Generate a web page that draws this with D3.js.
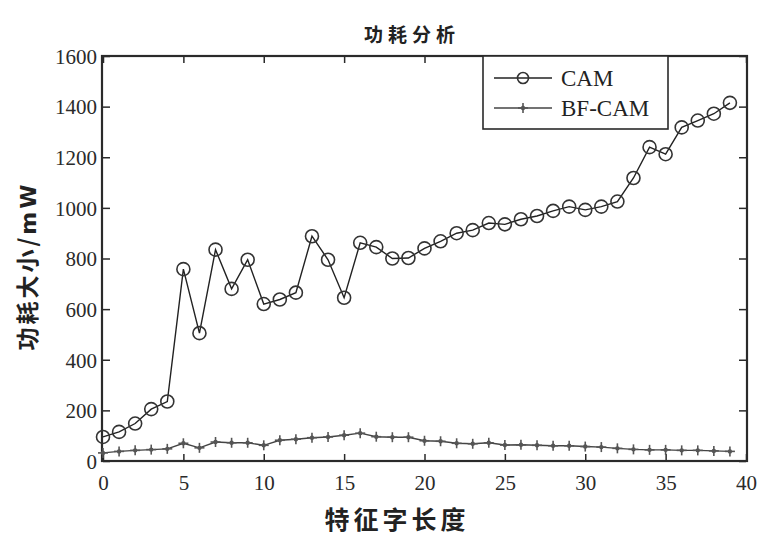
<!DOCTYPE html>
<html><head><meta charset="utf-8">
<script src="https://cdn.jsdelivr.net/npm/d3@7"></script>
<style>body{margin:0;background:#fff;} svg{display:block;}</style>
</head><body>
<svg id="c" width="763" height="536"></svg>
<script>
const xValues = d3.range(0, 40);
const camValues = [95,115,148,205,235,758,505,835,680,795,620,638,665,888,795,645,862,845,800,802,840,868,900,912,940,935,955,968,988,1005,992,1005,1025,1118,1240,1212,1318,1345,1372,1415];
const bfcamValues = [32,38,42,45,48,70,52,75,72,72,62,82,86,92,95,102,110,96,94,94,80,78,70,68,72,63,64,62,60,60,57,55,50,46,44,44,42,42,40,38];
const xTicks = [0,5,10,15,20,25,30,35,40];
const yTicks = [0,200,400,600,800,1000,1200,1400,1600];
const seriesNames = ["CAM","BF-CAM"];
const titleText = "功耗分析";
const xLabel = "特征字长度";
const yLabelCJK = "功耗大小/";
const yLabelUnit = "mW";

const svg = d3.select("#c");
const L = 103, R = 746, T = 56, B = 461;
const x = d3.scaleLinear().domain([0,40]).range([L,R]);
const y = d3.scaleLinear().domain([0,1600]).range([B,T]);
const ink = "#2a2a2a";
const serif = "'Liberation Serif','DejaVu Serif',serif";
const cjk = "'Noto Sans CJK SC','Noto Sans CJK JP',sans-serif";

// axes with inward ticks
const gx = svg.append("g").attr("transform",`translate(0,${B})`)
  .call(d3.axisBottom(x).tickValues(xTicks).tickSize(-7).tickPadding(14).tickFormat(d3.format("d")));
const gxt = svg.append("g").attr("transform",`translate(0,${T})`)
  .call(d3.axisTop(x).tickValues(xTicks).tickSize(-7).tickFormat(""));
const gy = svg.append("g").attr("transform",`translate(${L},0)`)
  .call(d3.axisLeft(y).tickValues(yTicks).tickSize(-7).tickPadding(6).tickFormat(d3.format("d")));
const gyr = svg.append("g").attr("transform",`translate(${R},0)`)
  .call(d3.axisRight(y).tickValues(yTicks).tickSize(-7).tickFormat(""));
[gx,gxt,gy,gyr].forEach(g=>{
  g.select(".domain").remove();
  g.selectAll(".tick line").attr("stroke",ink).attr("stroke-width",1.5);
  g.selectAll("text").attr("font-family",serif).attr("font-size",21).attr("fill","#2a2a2a");
});
gy.selectAll("text").attr("dy","0.35em");

svg.append("rect").attr("x",L-1).attr("y",T).attr("width",R-L+2).attr("height",B-T)
  .attr("fill","none").attr("stroke",ink).attr("stroke-width",2.2);

// lines
const line = vals => d3.line().x((d,i)=>x(xValues[i])).y(d=>y(d))(vals);
svg.append("path").attr("d",line(bfcamValues)).attr("fill","none").attr("stroke","#444").attr("stroke-width",1.4);
svg.append("path").attr("d",line(camValues)).attr("fill","none").attr("stroke","#222").attr("stroke-width",1.4);

// BF-CAM markers (+)
const plus = (g,cx,cy,s)=>{
  g.append("line").attr("x1",cx-s).attr("x2",cx+s).attr("y1",cy).attr("y2",cy);
  g.append("line").attr("x1",cx).attr("x2",cx).attr("y1",cy-s).attr("y2",cy+s);
  g.append("circle").attr("cx",cx).attr("cy",cy).attr("r",2.2).attr("fill","#555").attr("stroke","none");
};
const gp = svg.append("g").attr("stroke","#555").attr("stroke-width",1.6);
bfcamValues.forEach((v,i)=>plus(gp,x(xValues[i]),y(v),5));

// CAM markers (o)
svg.append("g").selectAll("circle").data(camValues).join("circle")
  .attr("cx",(d,i)=>x(xValues[i])).attr("cy",d=>y(d)).attr("r",6.5)
  .attr("fill","none").attr("stroke","#333").attr("stroke-width",1.6);

// legend
const lg = svg.append("g");
lg.append("rect").attr("x",483).attr("y",56).attr("width",185).attr("height",73)
  .attr("fill","#fff").attr("stroke",ink).attr("stroke-width",1.6);
lg.append("line").attr("x1",494).attr("x2",552).attr("y1",78).attr("y2",78).attr("stroke","#222").attr("stroke-width",1.4);
lg.append("circle").attr("cx",523).attr("cy",78).attr("r",5.5).attr("fill","none").attr("stroke","#333").attr("stroke-width",1.6);
lg.append("line").attr("x1",494).attr("x2",552).attr("y1",108).attr("y2",108).attr("stroke","#444").attr("stroke-width",1.4);
const lgp = lg.append("g").attr("stroke","#555").attr("stroke-width",1.6);
plus(lgp,523,108,5);
lg.selectAll("text.lt").data(seriesNames).join("text").attr("class","lt")
  .attr("x",561).attr("y",(d,i)=>78+i*30).attr("dy","0.35em")
  .attr("font-family",serif).attr("font-size",23).attr("fill","#222").text(d=>d);

// titles
svg.append("text").attr("x",412).attr("y",42).attr("text-anchor","middle")
  .attr("font-family",cjk).attr("font-size",19).attr("font-weight","bold").attr("letter-spacing",5)
  .attr("fill","#222").text(titleText);
svg.append("text").attr("x",397).attr("y",529).attr("text-anchor","middle")
  .attr("font-family",cjk).attr("font-size",25).attr("font-weight","bold").attr("letter-spacing",4)
  .attr("fill","#222").text(xLabel);
const yl = svg.append("text").attr("transform",`translate(36,266) rotate(-90)`).attr("text-anchor","middle")
  .attr("font-family",cjk).attr("font-size",23).attr("fill","#222").attr("letter-spacing",3);
yl.append("tspan").attr("font-weight","bold").text(yLabelCJK);
yl.append("tspan").attr("font-family","'DejaVu Sans',sans-serif").attr("font-weight","bold").attr("font-size",22).text(yLabelUnit);
</script>
</body></html>
